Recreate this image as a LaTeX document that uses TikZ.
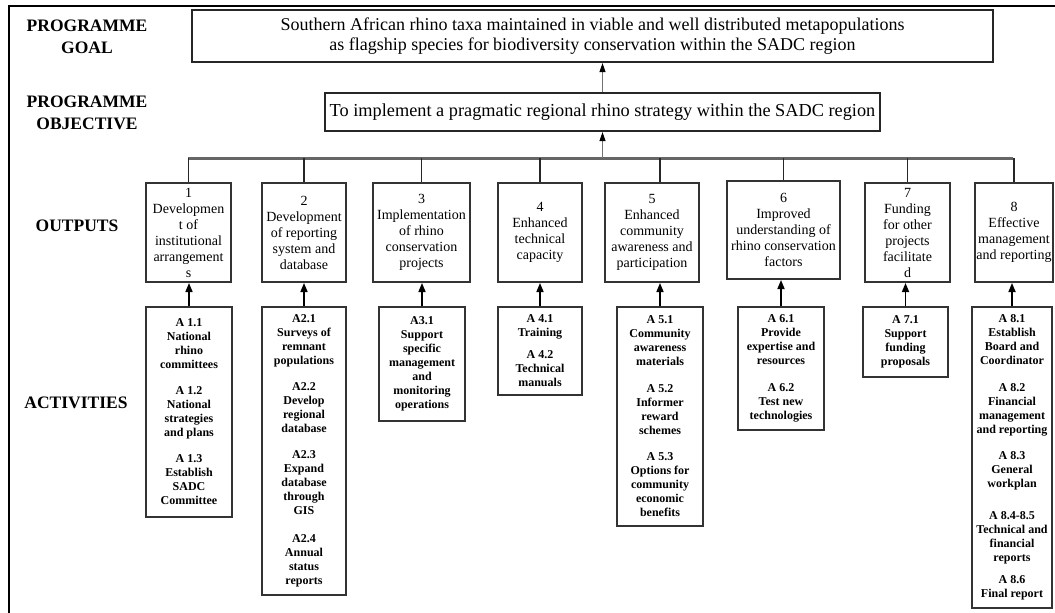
\documentclass[tikz,border=0pt]{standalone}
\usepackage{fontspec}
\setmainfont{Liberation Serif}
\usetikzlibrary{arrows.meta}
\begin{document}
\begin{tikzpicture}[x=1pt,y=-1pt,
  rule/.style={line width=2.8pt, black},
  heading/.style={font=\fontsize{17.5}{22}\selectfont\bfseries, align=center, inner sep=0pt},
  goalbox/.style={draw=black!85, line width=2.2pt, inner sep=0pt, align=center},
  outbox/.style={draw=black!80, line width=2pt, inner sep=0pt, align=center,
    font=\fontsize{14}{16}\selectfont},
  actbox/.style={draw=black!80, line width=2pt, inner sep=0pt, align=center,
    font=\fontsize{12}{14}\selectfont\bfseries},
  bar/.style={line width=3pt, black!60},
  drop/.style={line width=1.8pt, black!85},
  rise/.style={line width=1.6pt, black, -{Triangle[length=9pt,width=7pt]}},
  thinrise/.style={line width=1pt, black!55, -{Triangle[length=9pt,width=6pt,black]}},
]
\useasboundingbox (0,0) rectangle (1055,613);

% outer frame: top and left rules
\coordinate (tr) at (1055,6);
\coordinate (tl) at (9,6);
\coordinate (bl) at (9,613);
\draw[rule] (tr) -- (tl) -- (bl);

% row headings
\node[heading] (lgoal) at (87,37) {PROGRAMME\\GOAL};
\node[heading] (lobj)  at (87,113) {PROGRAMME\\OBJECTIVE};
\node[heading] (lout)  at (77,226) {OUTPUTS};
\node[heading] (lact)  at (76,403) {ACTIVITIES};

% goal and objective
\node[goalbox, minimum width=801, minimum height=52,
      font=\fontsize{18}{20.5}\selectfont] (goal) at (592.5,36)
  {Southern African rhino taxa maintained in viable and well distributed metapopulations\\
   as flagship species for biodiversity conservation within the SADC region};
\node[goalbox, minimum width=555, minimum height=38,
      font=\fontsize{18.3}{20}\selectfont] (obj) at (602.5,112)
  {To implement a pragmatic regional rhino strategy within the SADC region};
\draw[thinrise] (obj.north) -- (obj.north |- goal.south);

% distribution bar
\coordinate (barL) at (188,158);
\coordinate (barR) at (1013,158);
\draw[bar] (barL) -- (barR);
\draw[thinrise] (obj.south |- barL) -- (obj.south);

% outputs
\node[outbox, minimum width=85, minimum height=99] (o1) at (188.5,232.5)
  {1\\Developmen\\t of\\institutional\\arrangement\\s};
\node[outbox, minimum width=84, minimum height=99] (o2) at (304,232.5)
  {2\\Development\\of reporting\\system and\\database};
\node[outbox, minimum width=97, minimum height=99] (o3) at (421.5,232.5)
  {3\\Implementation\\of rhino\\conservation\\projects};
\node[outbox, minimum width=84, minimum height=99] (o4) at (540,232.5)
  {4\\Enhanced\\technical\\capacity};
\node[outbox, minimum width=94, minimum height=99] (o5) at (652,232.5)
  {5\\Enhanced\\community\\awareness and\\participation};
\node[outbox, minimum width=113, minimum height=98] (o6) at (783.5,230)
  {6\\Improved\\understanding of\\rhino conservation\\factors};
\node[outbox, minimum width=85, minimum height=99] (o7) at (907.5,232.5)
  {7\\Funding\\for other\\projects\\facilitate\\d};
\node[outbox, minimum width=78, minimum height=99] (o8) at (1014,232.5)
  {8\\Effective\\management\\and reporting};

% activities
\node[actbox, minimum width=86, minimum height=210] (a1) at (189,412)
  {A 1.1\\National\\rhino\\committees\\[12pt]A 1.2\\National\\strategies\\and plans\\[12pt]
   A 1.3\\Establish\\SADC\\Committee};
\node[actbox, minimum width=84, minimum height=288] (a2) at (304,451)
  {A2.1\\Surveys of\\remnant\\populations\\[12pt]A2.2\\Develop\\regional\\database\\[12pt]
   A2.3\\Expand\\database\\through\\GIS\\[14pt]A2.4\\Annual\\status\\reports};
\node[actbox, minimum width=86, minimum height=114] (a3) at (422,364)
  {A3.1\\Support\\specific\\management\\and\\monitoring\\operations};
\node[actbox, minimum width=84, minimum height=88] (a4) at (540,351)
  {A 4.1\\Training\\[8pt]A 4.2\\Technical\\manuals};
\node[actbox, minimum width=86, minimum height=219] (a5) at (660,416.5)
  {A 5.1\\Community\\awareness\\materials\\[13pt]A 5.2\\Informer\\reward\\schemes\\[12pt]
   A 5.3\\Options for\\community\\economic\\benefits};
\node[actbox, minimum width=86, minimum height=123] (a6) at (781,368.5)
  {A 6.1\\Provide\\expertise and\\resources\\[13pt]A 6.2\\Test new\\technologies};
\node[actbox, minimum width=85, minimum height=70] (a7) at (905.5,342)
  {A 7.1\\Support\\funding\\proposals};
\node[actbox, minimum width=80, minimum height=301] (a8) at (1012,457.5)
  {A 8.1\\Establish\\Board and\\Coordinator\\[13pt]A 8.2\\Financial\\management\\and reporting\\[12pt]
   A 8.3\\General\\workplan\\[18pt]A 8.4-8.5\\Technical and\\financial\\reports\\[8pt]
   A 8.6\\Final report};

% bar drops to outputs
\foreach \o in {o1,o2,o3,o4,o6,o7,o8}
  \draw[drop] (\o.north |- barL) -- (\o.north);
\draw[drop] (a5.north |- barL) -- (a5.north |- o5.north);

% activities feed outputs
\foreach \i in {1,...,8}
  \draw[rise] (a\i.north) -- (a\i.north |- o\i.south);
\end{tikzpicture}
\end{document}
